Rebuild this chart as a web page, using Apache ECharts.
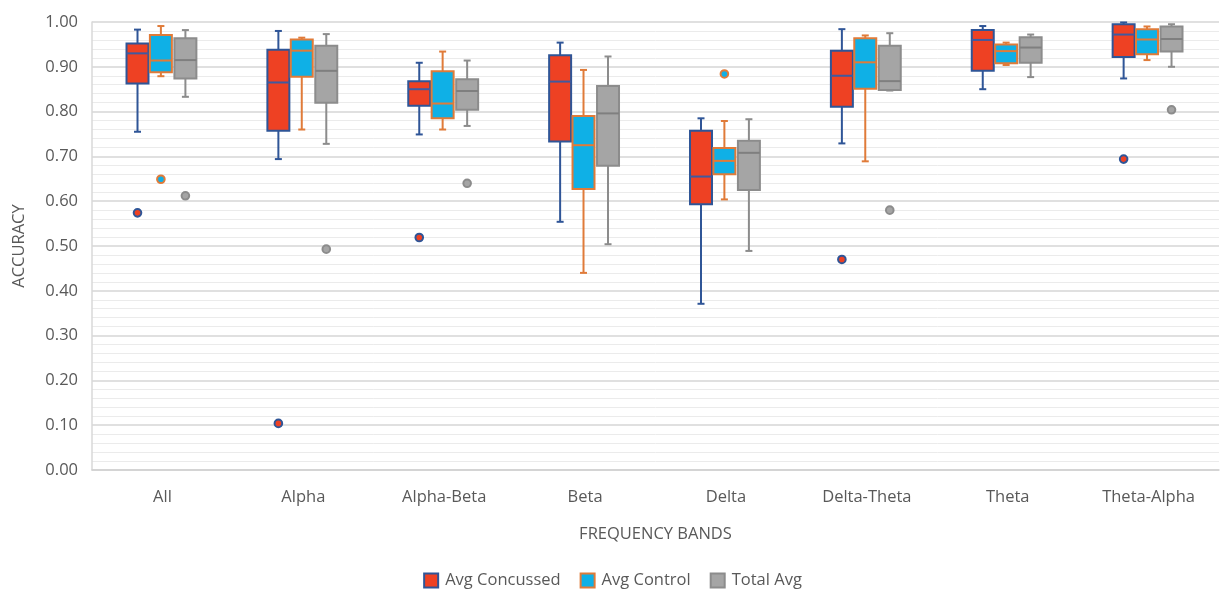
<!DOCTYPE html>
<html>
<head>
<meta charset="utf-8">
<script src="https://cdn.jsdelivr.net/npm/echarts@6/dist/echarts.min.js"></script>
<style>html,body{margin:0;padding:0;background:#fff;}#c{width:1225px;height:602px;}</style>
</head>
<body>
<div id="c"></div>
<script>
// Categories
var categories = ['All', 'Alpha', 'Alpha-Beta', 'Beta', 'Delta', 'Delta-Theta', 'Theta', 'Theta-Alpha'];
var yTickLabels = ['0.00','0.10','0.20','0.30','0.40','0.50','0.60','0.70','0.80','0.90','1.00'];

// [min, q1, median, q3, max] per category
var concussedBox = [
  [0.755, 0.863, 0.930, 0.952, 0.983],
  [0.694, 0.757, 0.865, 0.938, 0.980],
  [0.749, 0.813, 0.850, 0.868, 0.909],
  [0.554, 0.733, 0.867, 0.926, 0.954],
  [0.371, 0.593, 0.655, 0.757, 0.785],
  [0.729, 0.811, 0.880, 0.936, 0.984],
  [0.850, 0.891, 0.960, 0.982, 0.991],
  [0.874, 0.922, 0.972, 0.995, 0.999]
];
var controlBox = [
  [0.879, 0.888, 0.914, 0.971, 0.991],
  [0.760, 0.878, 0.936, 0.961, 0.965],
  [0.760, 0.785, 0.818, 0.890, 0.934],
  [0.440, 0.627, 0.725, 0.790, 0.893],
  [0.604, 0.660, 0.690, 0.719, 0.779],
  [0.689, 0.851, 0.910, 0.964, 0.970],
  [0.904, 0.908, 0.935, 0.950, 0.954],
  [0.915, 0.928, 0.961, 0.984, 0.990]
];
var totalBox = [
  [0.833, 0.874, 0.915, 0.964, 0.982],
  [0.728, 0.820, 0.891, 0.947, 0.973],
  [0.768, 0.804, 0.846, 0.872, 0.914],
  [0.504, 0.679, 0.796, 0.857, 0.923],
  [0.489, 0.625, 0.708, 0.735, 0.783],
  [0.847, 0.848, 0.868, 0.947, 0.975],
  [0.877, 0.909, 0.943, 0.966, 0.972],
  [0.900, 0.934, 0.962, 0.990, 0.995]
];

// Outliers: [categoryIndex, value]
var concussedOutliers = [[0, 0.574], [1, 0.104], [2, 0.519], [5, 0.470], [7, 0.694]];
var controlOutliers = [[0, 0.649], [4, 0.884]];
var totalOutliers = [[0, 0.612], [1, 0.493], [2, 0.640], [5, 0.580], [7, 0.804]];

var seriesNames = ['Avg Concussed', 'Avg Control', 'Total Avg'];

var styles = [
  { fill: '#EE4123', stroke: '#2F5597', median: '#3F5AA0', offset: -0.177 },
  { fill: '#0FB0E6', stroke: '#E07B39', median: '#E07B39', offset: -0.011 },
  { fill: '#A5A5A5', stroke: '#8C8C8C', median: '#7F7F7F', offset: 0.163 }
];

function toBoxData(arr) {
  return arr.map(function (d, i) { return [i].concat(d); });
}

function makeBoxRender(st) {
  return function (params, api) {
    var cat = api.value(0);
    var band = api.size([1, 0])[0];
    var w = band * 0.156;
    var off = band * st.offset;
    var pMin = api.coord([cat, api.value(1)]);
    var pQ1 = api.coord([cat, api.value(2)]);
    var pMed = api.coord([cat, api.value(3)]);
    var pQ3 = api.coord([cat, api.value(4)]);
    var pMax = api.coord([cat, api.value(5)]);
    var cx = pMin[0] + off;
    var cap = 3.5;
    var ls = { stroke: st.stroke, lineWidth: 2 };
    return {
      type: 'group',
      children: [
        { type: 'line', shape: { x1: cx, y1: pMax[1], x2: cx, y2: pQ3[1] }, style: ls },
        { type: 'line', shape: { x1: cx, y1: pQ1[1], x2: cx, y2: pMin[1] }, style: ls },
        { type: 'line', shape: { x1: cx - cap, y1: pMax[1], x2: cx + cap, y2: pMax[1] }, style: ls },
        { type: 'line', shape: { x1: cx - cap, y1: pMin[1], x2: cx + cap, y2: pMin[1] }, style: ls },
        { type: 'rect', shape: { x: cx - w / 2, y: pQ3[1], width: w, height: pQ1[1] - pQ3[1] },
          style: { fill: st.fill, stroke: st.stroke, lineWidth: 2 } },
        { type: 'line', shape: { x1: cx - w / 2, y1: pMed[1], x2: cx + w / 2, y2: pMed[1] },
          style: { stroke: st.median, lineWidth: 2 } }
      ]
    };
  };
}

function makeOutlierRender(st) {
  return function (params, api) {
    var cat = api.value(0);
    var band = api.size([1, 0])[0];
    var p = api.coord([cat, api.value(1)]);
    return {
      type: 'circle',
      shape: { cx: p[0] + band * st.offset, cy: p[1], r: 3.8 },
      style: { fill: st.fill, stroke: st.stroke, lineWidth: 2 }
    };
  };
}

var boxSets = [concussedBox, controlBox, totalBox];
var outSets = [concussedOutliers, controlOutliers, totalOutliers];
var series = [];
for (var i = 0; i < 3; i++) {
  series.push({
    name: seriesNames[i],
    type: 'custom',
    renderItem: makeBoxRender(styles[i]),
    encode: { x: 0, y: [1, 2, 3, 4, 5] },
    itemStyle: { color: styles[i].fill, borderColor: styles[i].stroke, borderWidth: 1.5 },
    data: toBoxData(boxSets[i]),
    z: 3
  });
}
for (var j = 0; j < 3; j++) {
  series.push({
    name: seriesNames[j],
    type: 'custom',
    renderItem: makeOutlierRender(styles[j]),
    encode: { x: 0, y: 1 },
    itemStyle: { color: styles[j].fill, borderColor: styles[j].stroke },
    data: outSets[j],
    z: 4
  });
}

var FONT = 'Open Sans, Liberation Sans, sans-serif';
var chart = echarts.init(document.getElementById('c'), null, { renderer: 'canvas' });
chart.setOption({
  animation: false,
  backgroundColor: '#ffffff',
  textStyle: { fontFamily: FONT },
  grid: { left: 92, right: 6, top: 22, bottom: 132 },
  legend: {
    data: seriesNames,
    left: 'center',
    top: 567,
    icon: 'rect',
    itemWidth: 14,
    itemHeight: 14,
    itemGap: 19,
    textStyle: { color: '#595959', fontSize: 16.5, fontFamily: FONT, padding: [0, 0, 0, 2] }
  },
  xAxis: {
    type: 'category',
    data: categories,
    boundaryGap: true,
    name: 'FREQUENCY BANDS',
    nameLocation: 'middle',
    nameGap: 56,
    nameTextStyle: { color: '#595959', fontSize: 16.5 },
    axisLine: { lineStyle: { color: '#D0D0D0', width: 1.5 } },
    axisTick: { show: false },
    axisLabel: { color: '#595959', fontSize: 16.5, margin: 19 },
    splitLine: { show: false }
  },
  yAxis: {
    type: 'value',
    min: 0,
    max: 1,
    interval: 0.1,
    name: 'ACCURACY',
    nameLocation: 'middle',
    nameGap: 64,
    nameTextStyle: { color: '#595959', fontSize: 16.5 },
    axisLine: { show: true, lineStyle: { color: '#D9D9D9', width: 1.5 } },
    axisTick: { show: false },
    axisLabel: {
      color: '#595959', fontSize: 16.5, margin: 14,
      formatter: function (v) { return yTickLabels[Math.round(v * 10)]; }
    },
    splitLine: { show: true, lineStyle: { color: '#D6D6D6', width: 1.5 } },
    minorTick: { show: false, splitNumber: 5 },
    minorSplitLine: { show: true, lineStyle: { color: '#EBEBEB', width: 1 } }
  },
  series: series
});
</script>
</body>
</html>
